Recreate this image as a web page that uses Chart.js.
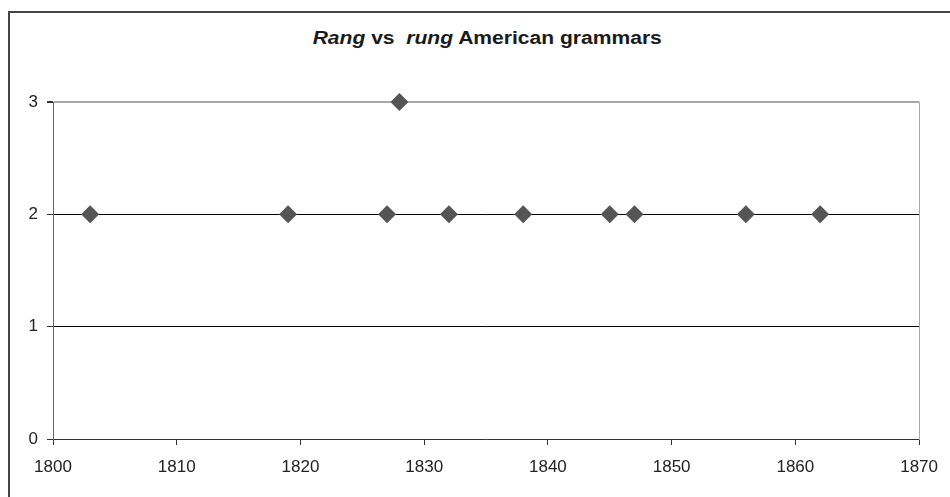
<!DOCTYPE html>
<html>
<head>
<meta charset="utf-8">
<script src="https://cdn.jsdelivr.net/npm/chart.js@4"></script>
<style>
  html, body { margin: 0; padding: 0; background: #fff; }
  #wrap { position: relative; width: 950px; height: 497px; overflow: hidden; }
  #frame { position: absolute; left: 8px; top: 11px; width: 1000px; height: 600px;
           border-top: 2px solid #444; border-left: 2px solid #444; }
  #title { position: absolute; left: 0; width: 974px; top: 28px; text-align: center;
           font: bold 18px "Liberation Sans", Arial, sans-serif; color: #1a1a1a; }
  #title span { display: inline-block; transform: scaleX(1.17); transform-origin: center; }
  canvas { position: absolute; left: 0; top: 0; }
</style>
</head>
<body>
<div id="wrap">
  <div id="frame"></div>
  <div id="title"><span><i>Rang</i> vs&nbsp; <i>rung</i> American grammars</span></div>
  <canvas id="chart" width="950" height="497"></canvas>
</div>
<script>
// Data
const years = [1803, 1819, 1827, 1828, 1832, 1838, 1845, 1847, 1856, 1862];
const counts = [2, 2, 2, 3, 2, 2, 2, 2, 2, 2];
const xTicks = [1800, 1810, 1820, 1830, 1840, 1850, 1860, 1870];
const yTicks = [0, 1, 2, 3];

const tickFont = { family: '"Liberation Sans", Arial, sans-serif', size: 17 };

new Chart(document.getElementById('chart').getContext('2d'), {
  type: 'scatter',
  data: {
    datasets: [{
      data: years.map((y, i) => ({ x: y, y: counts[i] })),
      pointStyle: 'rectRot',
      pointRadius: 9,
      pointHoverRadius: 9,
      backgroundColor: '#555',
      borderColor: '#555',
      borderWidth: 0,
      clip: false
    }]
  },
  options: {
    responsive: false,
    animation: false,
    events: [],
    layout: { padding: { left: 0, top: 102, right: 30, bottom: 0 } },
    plugins: { legend: { display: false }, tooltip: { enabled: false } },
    scales: {
      x: {
        type: 'linear',
        min: xTicks[0],
        max: xTicks[xTicks.length - 1],
        afterBuildTicks: s => { s.ticks = xTicks.map(v => ({ value: v })); },
        afterFit: s => { s.height = 58; },
        ticks: { font: tickFont, color: '#222', padding: 12, maxRotation: 0, callback: v => String(v) },
        grid: { drawOnChartArea: false, drawTicks: true, tickLength: 6, tickColor: '#333' },
        border: { color: '#333', width: 1 }
      },
      y: {
        min: yTicks[0],
        max: yTicks[yTicks.length - 1],
        afterBuildTicks: s => { s.ticks = yTicks.map(v => ({ value: v })); },
        afterFit: s => { s.width = 53; },
        ticks: { font: tickFont, color: '#222', padding: 9 },
        grid: {
          color: c => (c.tick && c.tick.value === 3) ? '#a8a8a8' : (c.tick && c.tick.value === 0 ? 'rgba(0,0,0,0)' : '#000'),
          lineWidth: c => (c.tick && c.tick.value === 3) ? 2 : 1,
          tickLength: 6,
          tickColor: '#333'
        },
        border: { color: '#666', width: 1 }
      },
      y2: {
        position: 'right',
        min: 0,
        max: 3,
        afterFit: s => { s.width = 0; },
        ticks: { display: false },
        grid: { display: false, drawTicks: false },
        border: { display: true, color: '#a8a8a8', width: 1 }
      }
    }
  }
});
</script>
</body>
</html>
